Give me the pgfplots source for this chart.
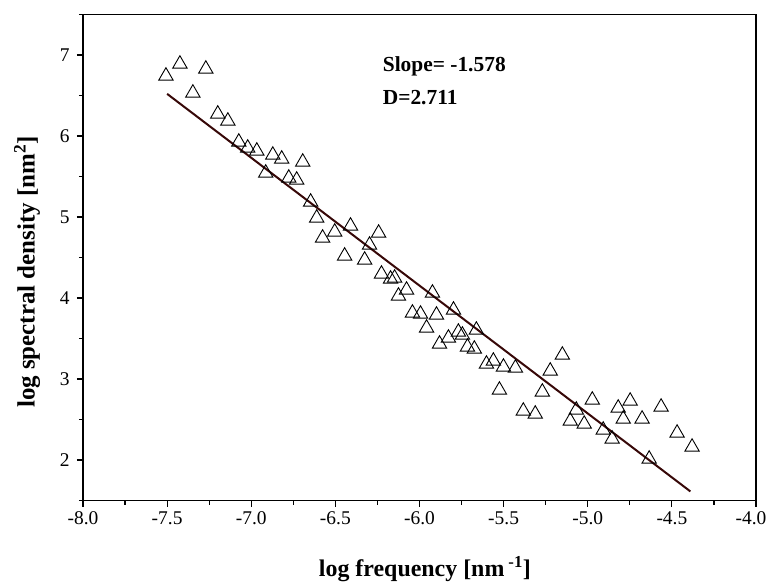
\documentclass[border=0pt]{standalone}
\usepackage{pgfplots}
\pgfplotsset{compat=1.18}
\usepackage{fontspec}
\setmainfont{Liberation Serif}
\definecolor{fitline}{RGB}{55,8,8}
\begin{document}
\begin{tikzpicture}
\path[use as bounding box] (-83bp,-83.5bp) rectangle (684bp,500.5bp);
\begin{axis}[
  at={(0,0)}, anchor=south west,
  scale only axis, width=673bp, height=486bp,
  xmin=-8, xmax=-4, ymin=1.5, ymax=7.5,
  xtick={-8,-7.5,-7,-6.5,-6,-5.5,-5,-4.5,-4},
  xticklabels={-8.0,-7.5,-7.0,-6.5,-6.0,-5.5,-5.0,-4.5,{-4.0\hspace*{10bp}}},
  ytick={2,3,4,5,6,7},
  yticklabels={2,3,4,5,6,7},
  minor xtick={-7.75,-7.25,-6.75,-6.25,-5.75,-5.25,-4.75,-4.25},
  minor ytick={1.5,2.5,3.5,4.5,5.5,6.5,7.5},
  tick align=outside, xtick pos=bottom, ytick pos=left,
  major tick length=6bp, minor tick length=4bp,
  axis line style={line width=1.3bp},
  every tick/.style={line width=1.2bp, black},
  tick label style={font=\fontsize{19.5}{19.5}\selectfont},
  xticklabel style={yshift=-2bp},
  yticklabel style={xshift=-4bp},
  xlabel={\bfseries log frequency [nm\,\textsuperscript{-1}]},
  ylabel={\bfseries log spectral density [nm\textsuperscript{2}]},
  xlabel style={font=\fontsize{24}{24}\selectfont, at={(axis description cs:0.508,-0.142)}, anchor=center},
  ylabel style={font=\fontsize{25}{25}\selectfont, at={(axis description cs:-0.083,0.47)}, anchor=center},
  clip=false,
]
\addplot[only marks, mark=triangle, mark size=8.3bp, mark options={line width=0.9bp, draw=black, fill=white}] coordinates {
(-7.507,6.741) (-7.424,6.889) (-7.347,6.531) (-7.270,6.827) (-7.199,6.272)
(-7.139,6.185) (-7.074,5.926) (-7.021,5.852) (-6.967,5.815) (-6.914,5.543)
(-6.872,5.765) (-6.819,5.716) (-6.777,5.481) (-6.730,5.457) (-6.694,5.679)
(-6.647,5.185) (-6.611,4.988) (-6.576,4.741) (-6.504,4.815) (-6.445,4.519)
(-6.410,4.889) (-6.326,4.469) (-6.297,4.654) (-6.243,4.802) (-6.226,4.296)
(-6.172,4.235) (-6.148,4.247) (-6.125,4.025) (-6.077,4.099) (-6.042,3.815)
(-5.994,3.802) (-5.958,3.630) (-5.923,4.062) (-5.899,3.790) (-5.881,3.432)
(-5.828,3.506) (-5.798,3.852) (-5.769,3.580) (-5.745,3.543) (-5.715,3.395)
(-5.674,3.370) (-5.662,3.605) (-5.602,3.185) (-5.561,3.222) (-5.525,2.864)
(-5.501,3.148) (-5.430,3.136) (-5.383,2.605) (-5.312,2.568) (-5.270,2.840)
(-5.223,3.099) (-5.151,3.296) (-5.104,2.481) (-5.068,2.617) (-5.021,2.444)
(-4.973,2.741) (-4.908,2.370) (-4.855,2.259) (-4.819,2.642) (-4.789,2.506)
(-4.748,2.728) (-4.677,2.506) (-4.635,2.012) (-4.564,2.654) (-4.469,2.333)
(-4.380,2.160)
};
\addplot[fitline, line width=2bp] coordinates {(-7.5,6.52) (-4.39,1.612)};
\node[anchor=base west, inner sep=0pt, font=\fontsize{21.5}{21.5}\selectfont\bfseries] at (axis cs:-6.219,6.802) {Slope= -1.578};
\node[anchor=base west, inner sep=0pt, font=\fontsize{21.5}{21.5}\selectfont\bfseries] at (axis cs:-6.219,6.383) {D=2.711};
\end{axis}
\end{tikzpicture}
\end{document}
